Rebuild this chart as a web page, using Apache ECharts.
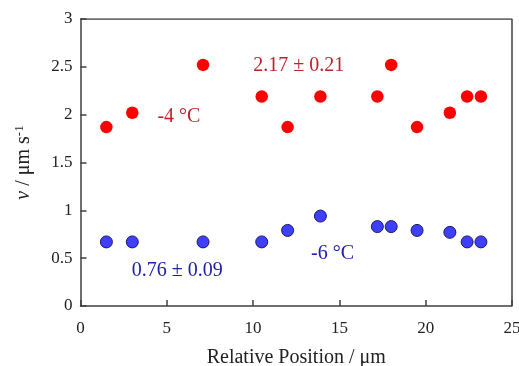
<!DOCTYPE html>
<html><head><meta charset="utf-8">
<script src="https://cdn.jsdelivr.net/npm/echarts@6/dist/echarts.min.js"></script>
<style>html,body{margin:0;padding:0;background:#fff}#c{width:519px;height:366px}</style>
</head><body><div id="c"></div>
<script>
const positions = [1.5, 3.0, 7.1, 10.5, 12.0, 13.9, 17.2, 18.0, 19.5, 21.4, 22.4, 23.2];
const redValues = [1.87, 2.02, 2.52, 2.19, 1.87, 2.19, 2.19, 2.52, 1.87, 2.02, 2.19, 2.19];
const bluePositions = [1.5, 3.0, 7.1, 10.5, 12.0, 13.9, 17.2, 18.0, 19.5, 21.4, 22.4, 23.2];
const blueValues = [0.67, 0.67, 0.67, 0.67, 0.79, 0.94, 0.83, 0.83, 0.79, 0.77, 0.67, 0.67];
const redNotes = [{text: '2.17 ± 0.21', x: 12.65, y: 2.51}, {text: '-4 °C', x: 5.7, y: 1.98}];
const blueNotes = [{text: '0.76 ± 0.09', x: 5.6, y: 0.37}, {text: '-6 °C', x: 14.6, y: 0.55}];
const xTicks = [0, 5, 10, 15, 20, 25];
const yTicks = [0, 0.5, 1, 1.5, 2, 2.5, 3];

const font = 'Liberation Serif';
const axisCol = '#404040';
const chart = echarts.init(document.getElementById('c'), null, {renderer: 'canvas'});
function notes(arr, color) {
  return {
    symbol: 'circle', symbolSize: 0,
    label: {show: true, position: 'inside', color: color, fontFamily: font, fontSize: 20,
      formatter: p => p.name},
    itemStyle: {color: 'transparent'},
    data: arr.map(n => ({name: n.text, coord: [n.x, n.y]}))
  };
}
chart.setOption({
  animation: false,
  grid: {left: 80.5, right: 7, top: 19, bottom: 60, containLabel: false, outerBoundsMode: 'none'},
  xAxis: {
    type: 'value', min: 0, max: 25, interval: 5,
    name: 'Relative Position / μm', nameLocation: 'middle', nameGap: 42,
    nameTextStyle: {fontFamily: font, fontSize: 20, color: '#222'},
    axisLine: {show: true, lineStyle: {color: axisCol, width: 1.5}},
    axisTick: {show: true, inside: true, length: 6, lineStyle: {color: axisCol, width: 1.5}},
    axisLabel: {fontFamily: font, fontSize: 17, color: '#222', margin: 14},
    splitLine: {show: false}
  },
  yAxis: {
    type: 'value', min: 0, max: 3, interval: 0.5,
    name: '{i|v} / μm s{s|-1}', nameLocation: 'middle', nameGap: 46,
    nameTextStyle: {fontFamily: font, fontSize: 20, color: '#222',
      rich: {i: {fontStyle: 'italic', fontFamily: font, fontSize: 20, color: '#222'},
             s: {fontFamily: font, fontSize: 13, color: '#222', verticalAlign: 'top', padding: [0, 0, 8, 0]}}},
    axisLine: {show: true, lineStyle: {color: axisCol, width: 1.5}},
    axisTick: {show: true, inside: true, length: 6, lineStyle: {color: axisCol, width: 1.5}},
    axisLabel: {fontFamily: font, fontSize: 17, color: '#222', margin: 8},
    splitLine: {show: false}
  },
  series: [
    {type: 'scatter', symbolSize: 12.5, data: positions.map((x, i) => [x, redValues[i]]),
      itemStyle: {color: '#ff0000', opacity: 1}, markPoint: notes(redNotes, '#c0202a')},
    {type: 'scatter', symbolSize: 12, data: bluePositions.map((x, i) => [x, blueValues[i]]),
      itemStyle: {color: '#3f3fff', borderColor: '#1a1a60', borderWidth: 1, opacity: 1}, markPoint: notes(blueNotes, '#2020b0')},
    {type: 'line', data: [[0, 3], [25, 3], [25, 0]], symbol: 'none', silent: true,
      lineStyle: {color: axisCol, width: 1.5}}
  ]
});
</script></body></html>
